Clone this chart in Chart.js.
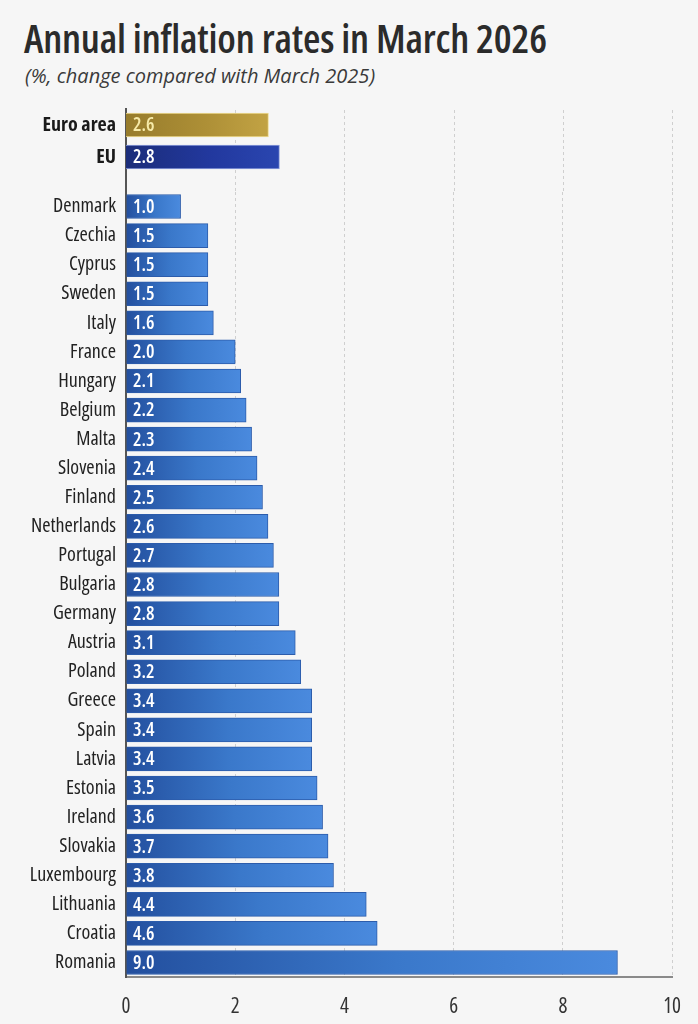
<!DOCTYPE html>
<html>
<head>
<meta charset="utf-8">
<script src="https://cdn.jsdelivr.net/npm/chart.js@4/dist/chart.umd.min.js"></script>
<style>
  html, body { margin: 0; padding: 0; background: #f6f6f6; }
  #wrap { position: relative; width: 698px; height: 1024px; overflow: hidden; }
  canvas { position: absolute; left: 0; }
  #title {
    position: absolute; left: 24px; top: 10px; margin: 0;
    font-family: "Open Sans", sans-serif; font-weight: 600; font-size: 40px;
    font-stretch: 75%; letter-spacing: -0.2px;
    color: #2b2b2b; white-space: nowrap;
  }
  #subtitle {
    position: absolute; left: 25px; top: 62px; margin: 0;
    font-family: "Open Sans", sans-serif; font-style: italic; font-size: 20px;
    font-stretch: 100%;
    color: #3a3a3a; white-space: nowrap;
  }
</style>
</head>
<body>
<div id="wrap">
  <div id="title">Annual inflation rates in March 2026</div>
  <div id="subtitle">(%, change compared with March 2025)</div>
  <canvas id="main" width="698" height="1024" style="top:0;width:698px;height:1024px"></canvas>
  <canvas id="aggr" width="698" height="135" style="top:75px;width:698px;height:135px"></canvas>
</div>
<script>
// Aggregates (top two bars)
const aggLabels = ['Euro area', 'EU'];
const aggValues = [2.6, 2.8];

// Member states
const countries = [
    'Denmark', 'Czechia', 'Cyprus', 'Sweden', 'Italy', 'France', 'Hungary',
    'Belgium', 'Malta', 'Slovenia', 'Finland', 'Netherlands', 'Portugal',
    'Bulgaria', 'Germany', 'Austria', 'Poland', 'Greece', 'Spain', 'Latvia',
    'Estonia', 'Ireland', 'Slovakia', 'Luxembourg', 'Lithuania', 'Croatia', 'Romania'
];
const rates = [
    1.0, 1.5, 1.5, 1.5, 1.6, 2.0, 2.1,
    2.2, 2.3, 2.4, 2.5, 2.6, 2.7,
    2.8, 2.8, 3.1, 3.2, 3.4, 3.4, 3.4,
    3.5, 3.6, 3.7, 3.8, 4.4, 4.6, 9.0
];

const xTicks = [0, 2, 4, 6, 8, 10];

const FONT = '"Open Sans", sans-serif';
const AXIS_LEFT = 126;
const PAD_RIGHT = 24;

const GRADIENTS = {
    country: ['#234f9e', '#3a78ca', '#4a8ade'],
    euro: ['#977c2c', '#ad8f36', '#c2a344'],
    eu: ['#1b2d7a', '#22389e', '#2a46b0']
};

// gradient along each bar, from zero to its end
function barFill(stops) {
    return function(ctx) {
        const chart = ctx.chart;
        if (!chart.chartArea || ctx.dataIndex === undefined) return stops[1];
        const v = ctx.dataset.data[ctx.dataIndex];
        const x0 = chart.scales.x.getPixelForValue(0);
        const x1 = chart.scales.x.getPixelForValue(v);
        const g = chart.ctx.createLinearGradient(x0, 0, x1, 0);
        g.addColorStop(0, stops[0]);
        g.addColorStop(0.55, stops[1]);
        g.addColorStop(1, stops[2]);
        return g;
    };
}

// value text at the start of each bar
const valueLabels = {
    id: 'valueLabels',
    afterDatasetsDraw(chart, args, opts) {
        const c = chart.ctx;
        const ds = chart.data.datasets[0];
        const meta = chart.getDatasetMeta(0);
        c.save();
        c.font = '600 condensed 19px ' + FONT;
        c.textBaseline = 'middle';
        c.textAlign = 'left';
        meta.data.forEach((bar, i) => {
            c.fillStyle = (opts.colors && opts.colors[i]) || '#ffffff';
            c.fillText(ds.data[i].toFixed(1), chart.chartArea.left + 7, bar.y + 1);
        });
        c.restore();
    }
};

// carries grid and left axis up through the aggregate rows
const gridAbove = {
    id: 'gridAbove',
    beforeDatasetsDraw(chart, args, opts) {
        const c = chart.ctx;
        const x = chart.scales.x;
        const top = chart.chartArea.top;
        c.save();
        c.strokeStyle = '#cfcfcf';
        c.lineWidth = 1;
        c.setLineDash([3, 3]);
        xTicks.slice(1).forEach(t => {
            const px = Math.round(x.getPixelForValue(t)) + 0.5;
            c.beginPath();
            c.moveTo(px, opts.from);
            c.lineTo(px, top);
            c.stroke();
        });
        c.setLineDash([]);
        c.strokeStyle = '#555555';
        c.lineWidth = 2;
        c.beginPath();
        c.moveTo(chart.chartArea.left, opts.from);
        c.lineTo(chart.chartArea.left, top);
        c.stroke();
        c.restore();
    }
};

const mainChart = new Chart(document.getElementById('main'), {
    type: 'bar',
    data: {
        labels: countries,
        datasets: [{
            data: rates,
            backgroundColor: barFill(GRADIENTS.country),
            borderColor: '#2c5cab',
            borderWidth: 1,
            borderSkipped: 'left',
            barThickness: 24
        }]
    },
    options: {
        indexAxis: 'y',
        responsive: false,
        maintainAspectRatio: false,
        animation: false,
        devicePixelRatio: 1,
        layout: { padding: { top: 192, right: PAD_RIGHT, bottom: 0, left: 0 } },
        plugins: {
            legend: { display: false },
            tooltip: { enabled: false },
            valueLabels: {},
            gridAbove: { from: 110 }
        },
        scales: {
            x: {
                min: 0,
                max: 10,
                afterBuildTicks: scale => { scale.ticks = xTicks.map(v => ({ value: v })); },
                afterFit: scale => { scale.height = 47; },
                ticks: { color: '#333333', font: { family: FONT, size: 21, weight: '400 condensed' }, padding: 17 },
                grid: {
                    color: c => (c.tick && c.tick.value === 0) ? 'rgba(0,0,0,0)' : '#cfcfcf',
                    lineWidth: 1,
                    drawTicks: false
                },
                border: { display: true, color: '#8a8a8a', width: 2, dash: [3, 3] }
            },
            y: {
                afterFit: scale => { scale.width = AXIS_LEFT; },
                ticks: { color: '#222222', font: { family: FONT, size: 20, weight: '400 condensed' }, padding: 10 },
                grid: { display: false, drawTicks: false },
                border: { display: true, color: '#555555', width: 2 }
            }
        }
    },
    plugins: [valueLabels, gridAbove]
});

const aggColors = [GRADIENTS.euro, GRADIENTS.eu];
const aggChart = new Chart(document.getElementById('aggr'), {
    type: 'bar',
    data: {
        labels: aggLabels,
        datasets: [{
            data: aggValues,
            backgroundColor: ctx => barFill(aggColors[ctx.dataIndex] || GRADIENTS.eu)(ctx),
            borderColor: ['#eedc94', '#8e9fdc'],
            borderWidth: 1,
            borderSkipped: 'left',
            barThickness: 24
        }]
    },
    options: {
        indexAxis: 'y',
        responsive: false,
        maintainAspectRatio: false,
        animation: false,
        devicePixelRatio: 1,
        layout: { padding: { top: 34, right: PAD_RIGHT, bottom: 37, left: 0 } },
        plugins: {
            legend: { display: false },
            tooltip: { enabled: false },
            valueLabels: { colors: ['#f6eaa8', '#ffffff'] }
        },
        scales: {
            x: { display: false, min: 0, max: 10 },
            y: {
                afterFit: scale => { scale.width = AXIS_LEFT; },
                ticks: { color: '#1a1a1a', font: { family: FONT, size: 20, weight: '700 condensed' }, padding: 10 },
                grid: { display: false, drawTicks: false },
                border: { display: true, color: '#555555', width: 2 }
            }
        }
    },
    plugins: [valueLabels]
});
</script>
</body>
</html>
